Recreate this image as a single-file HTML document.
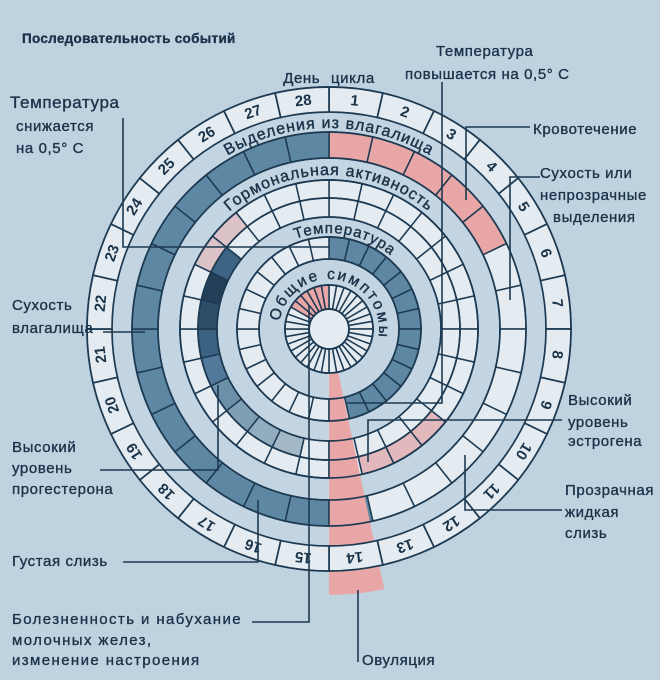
<!DOCTYPE html>
<html><head><meta charset="utf-8"><style>
html,body{margin:0;padding:0;background:#bfd2e0;}
svg{display:block;}
text{font-family:"Liberation Sans",sans-serif;fill:#1a3349;}
</style></head><body>
<svg id="s" width="660" height="680" viewBox="0 0 660 680" xmlns="http://www.w3.org/2000/svg">
<rect width="660" height="680" fill="#bfd2e0"/>
<g id="g"></g>
<g font-size="15" letter-spacing="0.6" stroke="#1a3349" stroke-width="0.35">
<text x="22" y="43" font-size="13.5" font-weight="bold" letter-spacing="0.3">Последовательность событий</text>
<text x="329" y="83" text-anchor="middle" word-spacing="6">День цикла</text>
<text x="10" y="108" font-size="17">Температура</text>
<text x="16" y="131">снижается</text>
<text x="16" y="153">на 0,5° С</text>
<text x="436" y="56">Температура</text>
<text x="405" y="79">повышается на 0,5° С</text>
<text x="533" y="134">Кровотечение</text>
<text x="540" y="178">Сухость или</text>
<text x="540" y="200">непрозрачные</text>
<text x="553" y="222">выделения</text>
<text x="568" y="405">Высокий</text>
<text x="568" y="427">уровень</text>
<text x="568" y="446">эстрогена</text>
<text x="565" y="495">Прозрачная</text>
<text x="565" y="517">жидкая</text>
<text x="565" y="538">слизь</text>
<text x="12" y="310">Сухость</text>
<text x="12" y="333">влагалища</text>
<text x="12" y="452">Высокий</text>
<text x="12" y="473">уровень</text>
<text x="12" y="494">прогестерона</text>
<text x="12" y="566">Густая слизь</text>
<text x="12" y="624" letter-spacing="1.4">Болезненность и набухание</text>
<text x="12" y="645" letter-spacing="1.4">молочных желез,</text>
<text x="12" y="665" letter-spacing="1.4">изменение настроения</text>
<text x="362" y="665">Овуляция</text>
</g>
<g id="top"></g>
</svg>
<script>
var cx=329,cy=329,NS="http://www.w3.org/2000/svg",D=360/28;
var g=document.getElementById('g'),top_=document.getElementById('top');
function P(r,a){var t=(a-90)*Math.PI/180;return [cx+r*Math.cos(t),cy+r*Math.sin(t)];}
function el(p,n,at,txt){var e=document.createElementNS(NS,n);for(var k in at)e.setAttribute(k,at[k]);if(txt)e.textContent=txt;p.appendChild(e);return e;}
function sec(r1,r2,a1,a2){var a=P(r2,a1),b=P(r2,a2),c=P(r1,a2),d=P(r1,a1);var l=(a2-a1)>180?1:0;
return "M"+a+" A"+r2+","+r2+" 0 "+l+" 1 "+b+" L"+c+" A"+r1+","+r1+" 0 "+l+" 0 "+d+"Z";}
var LN="#1d3a52",W="#e4ecf2",DK="#5d87a3",PK="#e9a6a6";
function circ(p,r,f){el(p,'circle',{cx:cx,cy:cy,r:r,fill:f||'none',stroke:LN,'stroke-width':1.7});}
circ(g,242,'#c3d5e2');
function ring(r1,r2,fillf,n){n=n||28;var d=360/n;for(var k=1;k<=n;k++){el(g,'path',{d:sec(r1,r2,(k-1)*d,k*d),fill:fillf(k),stroke:LN,'stroke-width':1.5});}}
ring(171,197,function(k){return k<=5?PK:(k<=13?W:DK);});
circ(g,149,'#c3d5e2');
ring(131,149,function(k){if(k==24||k==25)return "#dcc3c8";if(k>=11&&k<=13)return "#e2b8bc";return W;});
var prog={16:"#a4b9c8",17:"#93adc0",18:"#7f9fb5",19:"#6c90a9",20:"#52789a",21:"#3b6281",22:"#2b4d68",23:"#223f57",24:"#3d6483"};
ring(112,131,function(k){return prog[k]||W;});
circ(g,92,'#c3d5e2');
ring(70,92,function(k){return k<=13?DK:W;});
circ(g,44,'#c3d5e2');
ring(20,44,function(k){return (k>=31)?PK:W;},36);
circ(g,20,W);
el(g,'path',{d:sec(44,266,168,180),fill:PK,stroke:'none'});
[20,44,70,92,112,131,149,171,197].forEach(function(r){circ(g,r);});
for(var r of [[70,92],[112,149],[171,197]]){var a=P(r[0],180),b=P(r[1],180);el(g,'line',{x1:a[0],y1:a[1],x2:b[0],y2:b[1],stroke:LN,'stroke-width':1.5});}
for(var k=1;k<=28;k++){el(g,'path',{d:sec(217,242,(k-1)*D,k*D),fill:W,stroke:LN,'stroke-width':1.7});
var m=(k-0.5)*D,p=P(229.5,m);
el(g,'text',{x:p[0],y:p[1],'text-anchor':'middle','dominant-baseline':'central','font-size':15,'font-weight':'bold',transform:'rotate('+m+' '+p[0]+' '+p[1]+')'},String(k));}
var defs=el(g,'defs',{});
function arcText(id,r,a1,a2,txt,fs,ls){var a=P(r,a1),b=P(r,a2);
el(defs,'path',{id:id,d:"M"+a+" A"+r+","+r+" 0 "+((a2-a1)>180?1:0)+" 1 "+b});
var t=el(g,'text',{'font-size':fs,'letter-spacing':ls,'text-anchor':'middle',stroke:'#1a3349','stroke-width':0.4});
var tp=el(t,'textPath',{href:'#'+id,startOffset:'50%'},txt);tp.setAttributeNS("http://www.w3.org/1999/xlink","xlink:href","#"+id);}
arcText('a1',201,-80,80,'Выделения из влагалища',16,1);
arcText('a2',154,-85,85,'Гормональная активность',16,1);
arcText('a3',96,-70,90,'Температура',15,1);
arcText('a4',50,-80,100,'Общие симптомы',15.5,2.2);
function pl(pts){el(top_,'polyline',{points:pts,fill:'none',stroke:LN,'stroke-width':1.6});}
pl("442,82 442,403 347,403");
pl("530,127 466,127 466,200");
pl("540,177 510,177 510,300");
pl("562,420 368,420 368,462");
pl("562,510 465,510 465,455");
pl("123,118 123,247 329,247");
pl("103,332 145,332");
pl("100,470 218,470 218,385");
pl("123,562 258,562 258,500");
pl("252,622 309,622 309,305");
pl("358,590 358,662");
</script>
</body></html>
